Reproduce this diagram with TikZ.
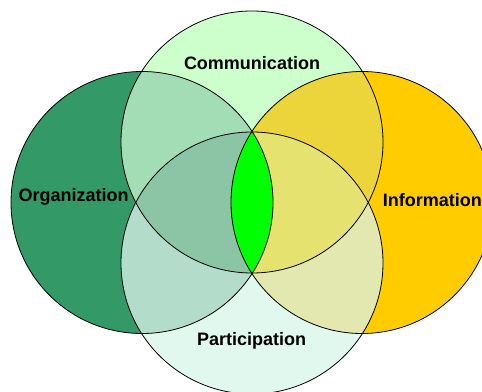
\documentclass[tikz,border=0pt]{standalone}
\usepackage{fontspec}
\setmainfont{Liberation Sans}
\definecolor{cTop}{HTML}{CCFFCC}
\definecolor{cBot}{HTML}{E1F8EE}
\definecolor{cLeft}{HTML}{339966}
\definecolor{cRight}{HTML}{FFCC00}
\definecolor{cTL}{HTML}{A3DDB5}
\definecolor{cTR}{HTML}{EBD53A}
\definecolor{cBL}{HTML}{B3DCCB}
\definecolor{cBR}{HTML}{E3E8B1}
\definecolor{cTBL}{HTML}{8CC5A6}
\definecolor{cTBR}{HTML}{E5E26F}
\definecolor{cCen}{HTML}{00FF00}
\tikzset{
  lbl/.style={inner sep=0pt, font=\fontsize{18pt}{20pt}\selectfont\bfseries, text=black},
  ring/.style={draw=black, line width=0.8pt}
}
\def\R{131}
\begin{document}
\begin{tikzpicture}[x=1pt,y=-1pt]
\useasboundingbox (0,0) rectangle (482,391);
\clip (0,0) rectangle (482,391);
\coordinate (T) at (252,142);
\coordinate (B) at (252,263);
\coordinate (L) at (142,202.5);
\coordinate (Rt) at (362,202.5);
% base fills
\fill[cTop] (T) circle[radius=\R];
\fill[cBot] (B) circle[radius=\R];
\fill[cLeft] (L) circle[radius=\R];
\fill[cRight] (Rt) circle[radius=\R];
% pairwise
\begin{scope}\clip (T) circle[radius=\R]; \fill[cTL] (L) circle[radius=\R]; \fill[cTR] (Rt) circle[radius=\R];\end{scope}
\begin{scope}\clip (B) circle[radius=\R]; \fill[cBL] (L) circle[radius=\R]; \fill[cBR] (Rt) circle[radius=\R];\end{scope}
% triple
\begin{scope}\clip (T) circle[radius=\R]; \clip (B) circle[radius=\R];
  \fill[cTBL] (L) circle[radius=\R]; \fill[cTBR] (Rt) circle[radius=\R];\end{scope}
% center
\begin{scope}\clip (L) circle[radius=\R]; \fill[cCen] (Rt) circle[radius=\R];\end{scope}
% outlines
\draw[ring] (T) circle[radius=\R];
\draw[ring] (B) circle[radius=\R];
\draw[ring] (L) circle[radius=\R];
\draw[ring] (Rt) circle[radius=\R];
% labels
\node[lbl, anchor=base] (comm) at (252,69) {Communication};
\node[lbl, anchor=base west] (org) at (18.3,201.7) {Organization};
\node[lbl, anchor=base west] (info) at (382.7,206) {Information};
\node[lbl, anchor=base] (part) at (251.7,345) {Participation};
\end{tikzpicture}
\end{document}
